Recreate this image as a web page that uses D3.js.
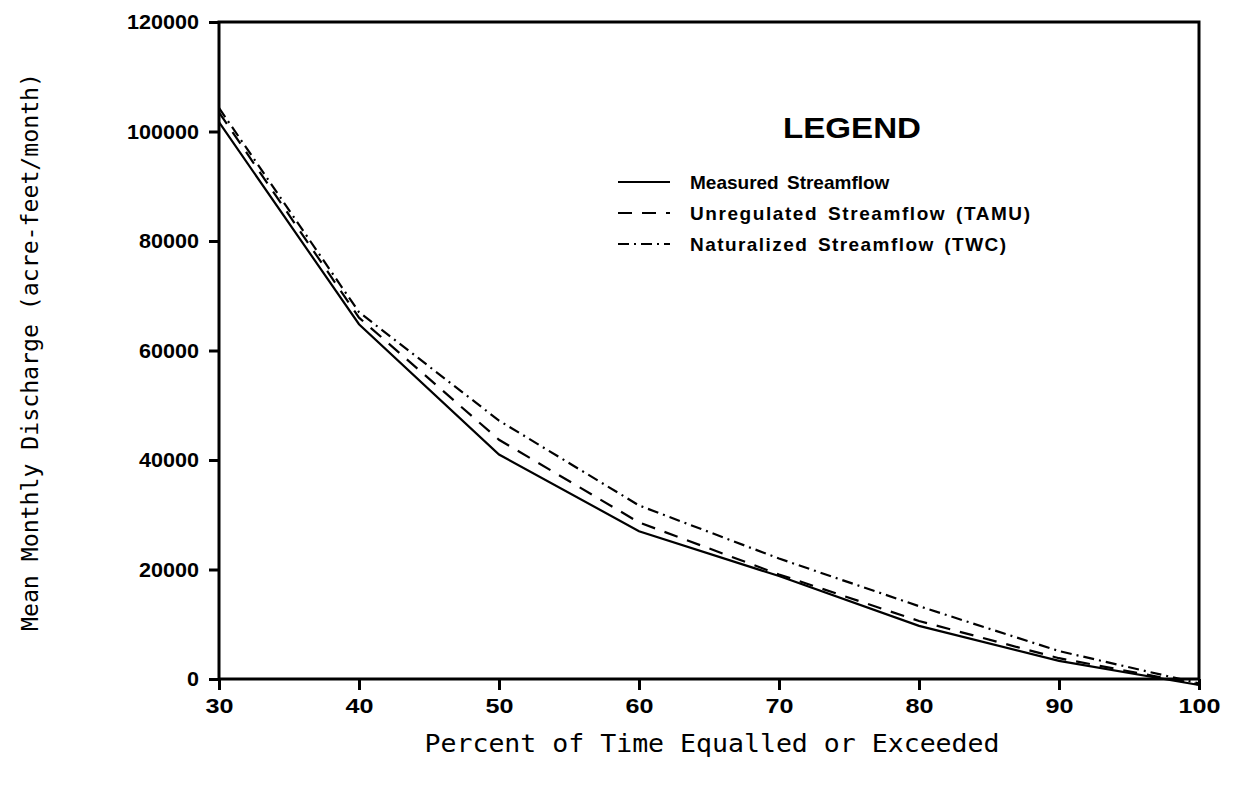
<!DOCTYPE html>
<html><head><meta charset="utf-8">
<script src="https://cdn.jsdelivr.net/npm/d3@7"></script>
<style>body{margin:0;background:#fff}svg{display:block}</style>
</head><body><svg id="c" width="1240" height="787"></svg>
<script>
const percents = [30, 40, 50, 60, 70, 80, 90, 100];
const measured = [101700, 64800, 41000, 27000, 18800, 9700, 3300, -1100];
const unregulated = [103500, 66000, 43700, 28600, 19100, 10600, 3800, -1000];
const naturalized = [104300, 67000, 47200, 31700, 22000, 13300, 5100, -800];
const xTicks = [30, 40, 50, 60, 70, 80, 90, 100];
const yTicks = [0, 20000, 40000, 60000, 80000, 100000, 120000];
const seriesNames = ["Measured Streamflow", "Unregulated Streamflow (TAMU)", "Naturalized Streamflow (TWC)"];
const dashes = [null, "14,10", "11,5,2,5"];

const svg = d3.select("#c");
const m = {l: 219, r: 1199, t: 22, b: 679};
const x = d3.scaleLinear().domain([30, 100]).range([m.l, m.r]);
const y = d3.scaleLinear().domain([0, 120000]).range([m.b, m.t]);

const tickFont = "'Liberation Sans', Arial, sans-serif";
const monoFont = "'DejaVu Sans Mono', monospace";

// x axis
const gx = svg.append("g").attr("transform", `translate(0,${m.b})`)
  .call(d3.axisBottom(x).tickValues(xTicks).tickSize(11).tickPadding(8));
gx.select(".domain").remove();
gx.selectAll("line").attr("stroke", "#000").attr("stroke-width", 3);
gx.selectAll("text").attr("font-family", tickFont).attr("font-weight", "bold")
  .attr("font-size", 21).attr("fill", "#000")
  .attr("textLength", d => String(d).length * 14).attr("lengthAdjust", "spacingAndGlyphs");

// y axis
const gy = svg.append("g").attr("transform", `translate(${m.l},0)`)
  .call(d3.axisLeft(y).tickValues(yTicks).tickSize(10).tickPadding(10).tickFormat(d3.format("d")));
gy.select(".domain").remove();
gy.selectAll("line").attr("stroke", "#000").attr("stroke-width", 3);
gy.selectAll("text").attr("font-family", tickFont).attr("font-weight", "bold")
  .attr("font-size", 21).attr("fill", "#000")
  .attr("textLength", d => String(d).length * 12).attr("lengthAdjust", "spacingAndGlyphs");

// frame
svg.append("rect").attr("x", m.l).attr("y", m.t).attr("width", m.r - m.l).attr("height", m.b - m.t)
  .attr("fill", "none").attr("stroke", "#000").attr("stroke-width", 3);

// lines
const line = d3.line().x(d => x(d[0])).y(d => y(d[1]));
[measured, unregulated, naturalized].forEach((s, i) => {
  svg.append("path").datum(percents.map((p, j) => [p, s[j]]))
    .attr("d", line).attr("fill", "none").attr("stroke", "#000")
    .attr("stroke-width", 2.2).attr("stroke-dasharray", dashes[i]);
});

// legend
svg.append("text").attr("x", 783).attr("y", 138)
  .attr("font-family", tickFont).attr("font-weight", "bold").attr("font-size", 30)
  .attr("textLength", 138).attr("lengthAdjust", "spacingAndGlyphs").text("LEGEND");
const legendWidths = [null, 340, 316];
seriesNames.forEach((n, i) => {
  const yy = 182 + i * 31;
  svg.append("line").attr("x1", 618).attr("x2", 670).attr("y1", yy).attr("y2", yy)
    .attr("stroke", "#000").attr("stroke-width", 2).attr("stroke-dasharray", dashes[i]);
  const t = svg.append("text").attr("x", 690).attr("y", yy + 7)
    .attr("font-family", tickFont).attr("font-weight", "bold").attr("font-size", 19)
    .attr("word-spacing", 3).text(n);
  if (legendWidths[i]) t.attr("textLength", legendWidths[i]).attr("lengthAdjust", "spacing");
});

// axis titles
svg.append("text").attr("x", 712).attr("y", 752).attr("text-anchor", "middle")
  .attr("font-family", monoFont).attr("font-size", 25)
  .attr("textLength", 575).attr("lengthAdjust", "spacingAndGlyphs")
  .text("Percent of Time Equalled or Exceeded");
svg.append("text").attr("transform", "translate(38,352) rotate(-90)").attr("text-anchor", "middle")
  .attr("font-family", monoFont).attr("font-size", 23)
  .attr("textLength", 558).attr("lengthAdjust", "spacingAndGlyphs")
  .text("Mean Monthly Discharge (acre-feet/month)");
</script></body></html>
